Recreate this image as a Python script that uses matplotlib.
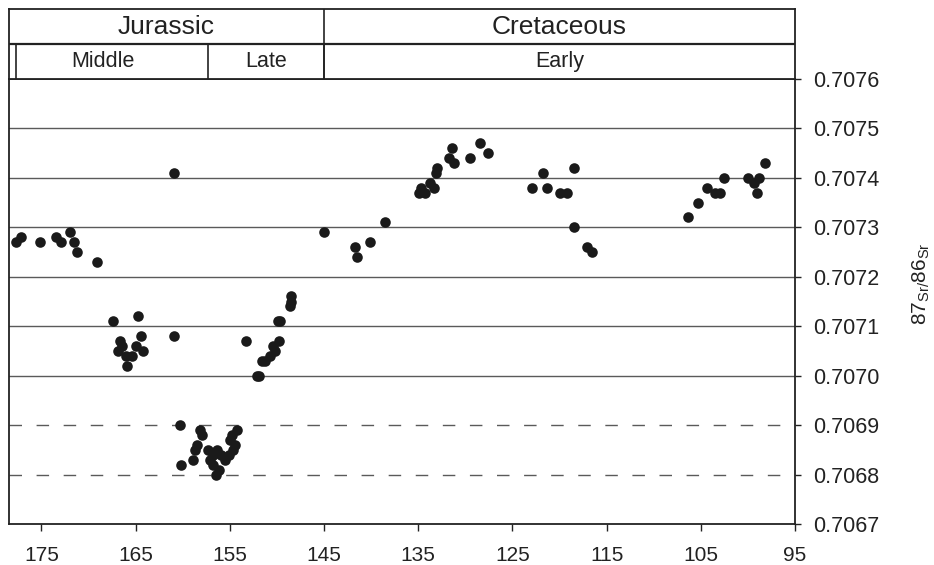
import matplotlib
matplotlib.use("Agg")
import matplotlib.pyplot as plt

plt.rcParams['font.family'] = ['Liberation Sans', 'DejaVu Sans']
plt.rcParams['mathtext.fontset'] = 'custom'
plt.rcParams['mathtext.rm'] = 'Liberation Sans'
plt.rcParams['mathtext.default'] = 'regular'

# age (Ma) and 87Sr/86Sr of each sample
age = [177.7, 177.2, 175.15, 173.45, 172.9, 172.0, 171.5, 171.25, 169.1,
       167.4, 164.7, 166.7, 166.4, 166.9, 164.4, 165.0, 164.2, 166.0, 165.4,
       165.9, 160.9, 160.9,
       160.3, 160.2, 158.2, 157.95, 158.5, 158.9, 158.7, 157.3, 156.75, 156.4,
       157.1, 156.8, 156.5, 156.1, 155.9, 155.5, 155.05, 154.7, 154.45, 155.0,
       154.8, 154.2,
       148.5, 148.5, 148.6, 149.85, 149.7, 149.75, 150.4, 150.2, 150.7, 151.3,
       151.6, 151.9, 152.1, 153.3,
       145.0, 141.7, 141.5, 140.1, 138.5, 134.9, 134.7, 134.3, 133.75, 133.3,
       133.1, 133.0, 131.7, 131.2, 131.4, 129.5, 128.4, 127.6,
       122.9, 121.75, 121.3, 120.0, 119.2, 118.5, 118.5, 117.1, 116.5,
       106.4, 105.3, 104.3, 103.45, 103.0, 102.5, 100.0, 99.4, 98.8, 99.0, 98.2]
sr = [0.70727, 0.70728, 0.70727, 0.70728, 0.70727, 0.70729, 0.70727, 0.70725,
      0.70723, 0.70711, 0.70712, 0.70707, 0.70706, 0.70705, 0.70708, 0.70706,
      0.70705, 0.70704, 0.70704, 0.70702, 0.70708, 0.70741,
      0.70690, 0.70682, 0.70689, 0.70688, 0.70686, 0.70683, 0.70685, 0.70685,
      0.70684, 0.70685, 0.70683, 0.70682, 0.70680, 0.70681, 0.70684, 0.70683,
      0.70684, 0.70685, 0.70686, 0.70687, 0.70688, 0.70689,
      0.707161, 0.70715, 0.70714, 0.70711, 0.70711, 0.70707, 0.70706, 0.70705,
      0.70704, 0.70703, 0.70703, 0.70700, 0.70700, 0.70707,
      0.70729, 0.70726, 0.70724, 0.70727, 0.70731, 0.70737, 0.70738, 0.70737,
      0.70739, 0.70738, 0.70741, 0.70742, 0.70744, 0.70743, 0.70746, 0.70744,
      0.70747, 0.70745,
      0.70738, 0.70741, 0.70738, 0.70737, 0.70737, 0.70742, 0.70730, 0.70726,
      0.70725,
      0.70732, 0.70735, 0.70738, 0.70737, 0.70737, 0.70740, 0.70740, 0.70739,
      0.70740, 0.70737, 0.70743]

x_ticks = [175, 165, 155, 145, 135, 125, 115, 105, 95]
y_ticks = [0.7067, 0.7068, 0.7069, 0.7070, 0.7071, 0.7072, 0.7073, 0.7074,
           0.7075, 0.7076]

periods = [("Jurassic", 178.5, 145.0), ("Cretaceous", 145.0, 95.0)]
epochs = [("Middle", 177.7, 157.3), ("Late", 157.3, 145.0), ("Early", 145.0, 95.0)]

W, H = 934, 565
fig = plt.figure(figsize=(W / 100, H / 100), dpi=100)

left, right = 8.5 / W, 795 / W
ax = fig.add_axes([left, (H - 524) / H, right - left, (524 - 79) / H])
ax.set_xlim(178.5, 95)
ax.set_ylim(0.7067, 0.7076)

# reference lines
for v in y_ticks[1:-1]:
    if v < 0.70695:
        ax.axhline(v, color='#5a5a5a', lw=1.0, dashes=(9, 10.5), zorder=1)
    else:
        ax.axhline(v, color='#5a5a5a', lw=1.0, zorder=1)

ax.scatter(age, sr, s=58, color='#1a1a1a', linewidths=0, zorder=3)

ax.set_xticks(x_ticks)
ax.set_xticklabels([str(t) for t in x_ticks])
ax.set_yticks(y_ticks)
ax.set_yticklabels(['%.4f' % t for t in y_ticks])
ax.yaxis.tick_right()
ax.tick_params(axis='x', direction='out', length=5, width=1, pad=11,
               labelsize=15, colors='#222222')
ax.tick_params(axis='y', direction='out', length=4, width=1, pad=9,
               labelsize=15.5, colors='#222222')
for s in ax.spines.values():
    s.set_linewidth(1.3)
    s.set_color('#222222')

fig.text(921 / W, 1 - 284 / H, r'87$_{Sr/}$86$_{Sr}$', rotation=90,
         ha='center', va='center', fontsize=15, color='#222222')

# stratigraphic header
hdr = fig.add_axes([left, (H - 79) / H, right - left, (79 - 9) / H])
hdr.set_xlim(178.5, 95)
hdr.set_ylim(0, 2)
hdr.set_xticks([])
hdr.set_yticks([])
for s in hdr.spines.values():
    s.set_linewidth(1.3)
    s.set_color('#222222')
hdr.axhline(1, color='#222222', lw=1.6)

for name, a, b in periods:
    if a < 178.5:
        hdr.plot([a, a], [0, 2], color='#222222', lw=1.2)
    hdr.text((a + b) / 2, 1.5, name, ha='center', va='center',
             fontsize=19, color='#222222')
for name, a, b in epochs:
    hdr.plot([a, a], [0, 1], color='#222222', lw=1.2)
    cx = (a + b) / 2 + (1 if name == "Middle" else 0)
    hdr.text(cx, 0.5, name, ha='center', va='center',
             fontsize=15.5, color='#222222')

fig.savefig("out.png", dpi=100)
